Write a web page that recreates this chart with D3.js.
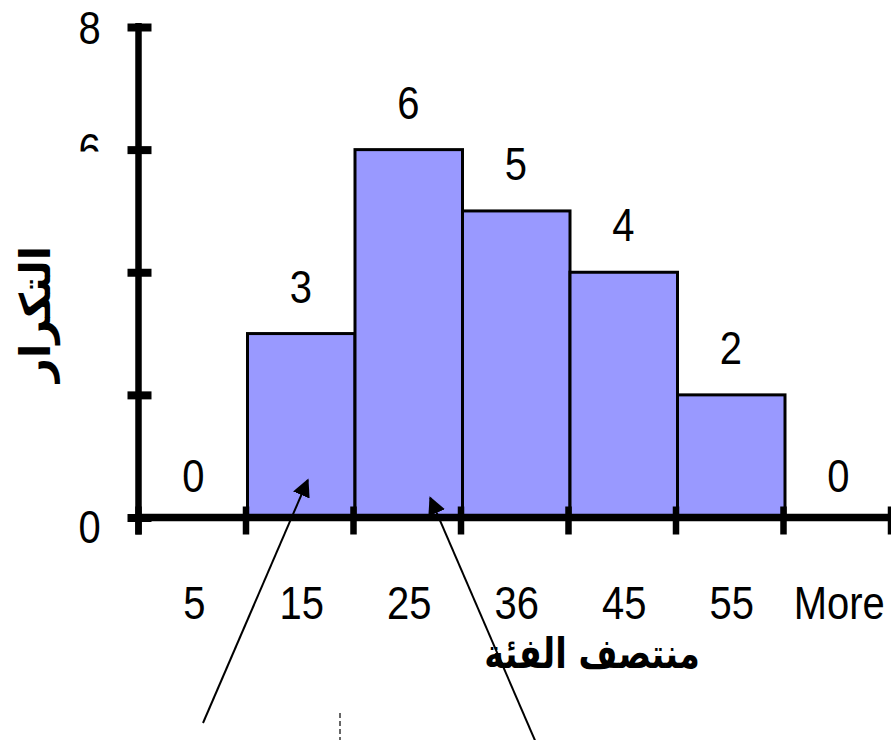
<!DOCTYPE html>
<html>
<head>
<meta charset="utf-8">
<script src="https://cdn.jsdelivr.net/npm/d3@7"></script>
<style>
  html, body { margin: 0; padding: 0; background: #fff; }
  svg { display: block; }
</style>
</head>
<body>
<svg id="chart" width="891" height="740"></svg>
<script>
// Class midpoints and their frequencies
const categories = ["5", "15", "25", "36", "45", "55", "More"];
const frequencies = [0, 3, 6, 5, 4, 2, 0];
const yTickValues = [0, 2, 4, 6, 8];
const yTickLabels = ["0", "", "", "6", "8"];
const xTitle = "منتصف الفئة";
const yTitle = "التكرار";

// Pointer arrows: tip in data space (category, value, pixel nudge), tail in pixels
const pointers = [
  { cat: "15", value: 0.61, dx: 8, tailX: 203, tailY: 723 },
  { cat: "25", value: 0.32, dx: 23, tailX: 540, tailY: 752 }
];

const W = 891, H = 740;
const svg = d3.select("#chart");
const latin = "'Liberation Sans', Arial, sans-serif";
const arabic = "'DejaVu Sans', 'Noto Sans', sans-serif";
const FS = 47, SX = 0.85;

const x = d3.scaleBand().domain(categories).range([138.5, 891]).paddingInner(0).paddingOuter(0);
const y = d3.scaleLinear().domain([0, 8]).range([517.5, 27]);

// Bars
svg.append("g").selectAll("rect")
  .data(categories.map((c, i) => ({ c, v: frequencies[i] })).filter(d => d.v > 0))
  .join("rect")
  .attr("x", d => x(d.c) + 1.5)
  .attr("y", d => y(d.v))
  .attr("width", x.bandwidth())
  .attr("height", d => y(0) - y(d.v))
  .attr("fill", "#9999FF")
  .attr("stroke", "#000")
  .attr("stroke-width", 3);

// Value labels above bars
svg.append("g").selectAll("text")
  .data(categories.map((c, i) => ({ c, v: frequencies[i] })))
  .join("text")
  .attr("transform", d => `translate(${x(d.c) + x.bandwidth() / 2 + 1},${y(d.v) - (d.v === 0 ? 26 : 31)}) scale(${SX},1)`)
  .attr("text-anchor", "middle")
  .attr("font-family", latin)
  .attr("font-size", FS)
  .attr("fill", "#000")
  .text(d => d.v);

// Y axis
const yAxisG = svg.append("g")
  .attr("transform", "translate(138.5,0)")
  .call(d3.axisLeft(y).tickValues(yTickValues).tickFormat("").tickSize(0));
yAxisG.select(".domain").remove();
yAxisG.append("line")
  .attr("x1", 0).attr("x2", 0)
  .attr("y1", y(8) - 4).attr("y2", y(0) + 17)
  .attr("stroke", "#000").attr("stroke-width", 6.5);
yAxisG.selectAll(".tick line")
  .attr("x1", -11).attr("x2", 13)
  .attr("stroke", "#000").attr("stroke-width", 8);

// Y tick labels (the lower part of the label column is masked)
const defs = svg.append("defs");
const clip = defs.append("clipPath").attr("id", "ylabClip");
clip.append("rect").attr("x", 0).attr("y", 0).attr("width", 130).attr("height", 151.5);
clip.append("rect").attr("x", 0).attr("y", 500).attr("width", 130).attr("height", 60);
svg.append("g").attr("clip-path", "url(#ylabClip)")
  .selectAll("text")
  .data(yTickValues.map((v, i) => ({ v, t: yTickLabels[i] })).filter(d => d.t !== ""))
  .join("text")
  .attr("transform", d => `translate(89.5,${y(d.v) + (d.v === 0 ? 25 : 16.5)}) scale(${SX},1)`)
  .attr("text-anchor", "middle")
  .attr("font-family", latin)
  .attr("font-size", FS)
  .text(d => d.t);

// X axis
const xAxisG = svg.append("g")
  .attr("transform", `translate(0,${y(0)})`)
  .call(d3.axisBottom(x).tickSize(0).tickFormat(""));
xAxisG.select(".domain").remove();
xAxisG.selectAll(".tick").remove();
xAxisG.append("line")
  .attr("x1", 135).attr("x2", W)
  .attr("y1", 0).attr("y2", 0)
  .attr("stroke", "#000").attr("stroke-width", 7.5);
const bounds = categories.map(c => x(c)).concat([x(categories[categories.length - 1]) + x.bandwidth()]);
xAxisG.selectAll(".xtick")
  .data(bounds)
  .join("line")
  .attr("class", "xtick")
  .attr("x1", d => d).attr("x2", d => d)
  .attr("y1", -11).attr("y2", 17)
  .attr("stroke", "#000").attr("stroke-width", 6.5);

// X tick labels
svg.append("g").selectAll("text")
  .data(categories)
  .join("text")
  .attr("transform", d => `translate(${x(d) + x.bandwidth() / 2 + 2},619) scale(${SX},1)`)
  .attr("text-anchor", "middle")
  .attr("font-family", latin)
  .attr("font-size", FS)
  .text(d => d);

// Axis titles
svg.append("text")
  .attr("transform", "translate(592,668) scale(0.8,1)")
  .attr("text-anchor", "middle")
  .attr("font-family", arabic)
  .attr("font-weight", "bold")
  .attr("font-size", 42)
  .attr("direction", "rtl")
  .text(xTitle);

svg.append("text")
  .attr("transform", "translate(50,314) rotate(-90)")
  .attr("text-anchor", "middle")
  .attr("font-family", arabic)
  .attr("font-weight", "bold")
  .attr("font-size", 42)
  .attr("direction", "rtl")
  .text(yTitle);

// Pointer arrows
defs.append("marker")
  .attr("id", "head")
  .attr("viewBox", "0 0 10 10")
  .attr("refX", 9).attr("refY", 5)
  .attr("markerWidth", 18).attr("markerHeight", 18)
  .attr("markerUnits", "userSpaceOnUse")
  .attr("orient", "auto")
  .append("path").attr("d", "M0,0 L10,5 L0,10 Z").attr("fill", "#000");

svg.append("g").selectAll("line")
  .data(pointers)
  .join("line")
  .attr("x1", d => d.tailX).attr("y1", d => d.tailY)
  .attr("x2", d => x(d.cat) + x.bandwidth() / 2 + d.dx)
  .attr("y2", d => y(d.value))
  .attr("stroke", "#000").attr("stroke-width", 2)
  .attr("marker-end", "url(#head)");

// Small dashed stub at the lower edge
svg.append("line")
  .attr("x1", 340).attr("x2", 340)
  .attr("y1", 713).attr("y2", H)
  .attr("stroke", "#666").attr("stroke-width", 2)
  .attr("stroke-dasharray", "5,3");
</script>
</body>
</html>
